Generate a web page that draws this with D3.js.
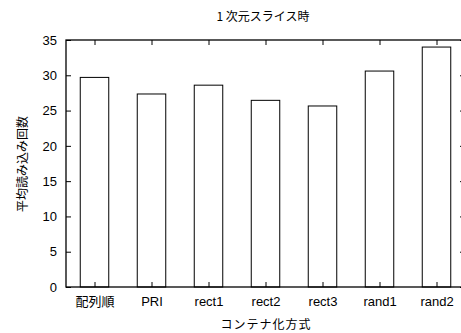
<!DOCTYPE html>
<html>
<head>
<meta charset="utf-8">
<script src="https://cdn.jsdelivr.net/npm/d3@7"></script>
<style>
  body { margin: 0; background: #fff; }
  svg { display: block; }
</style>
</head>
<body>
<script>
// chart data
var categories = ["配列順", "PRI", "rect1", "rect2", "rect3", "rand1", "rand2"];
var values = [29.7, 27.35, 28.6, 26.45, 25.65, 30.6, 34.0];
var yTicks = [0, 5, 10, 15, 20, 25, 30, 35];

var width = 461, height = 333;
// plot box (right edge runs past the window, like the original)
var plotL = 66, plotT = 40, plotR = 465, plotB = 287;
var jpFont = "'Noto Sans CJK JP', sans-serif";
var numFont = "'Liberation Sans', Arial, sans-serif";

var svg = d3.select("body").append("svg")
	.attr("width", width)
	.attr("height", height);

// gnuplot style: xrange [-0.5, n-0.5], bar width 0.5
var x = d3.scaleLinear()
	.domain([-0.5, categories.length - 0.5])
	.range([plotL, plotR]);

var y = d3.scaleLinear()
	.domain([0, 35])
	.range([plotB, plotT]);

var barW = x(0.25) - x(0);

// bars
svg.append("g")
	.selectAll("rect")
	.data(values)
	.enter().append("rect")
		.attr("x", function(d, i) { return x(i) - barW; })
		.attr("y", function(d) { return y(d); })
		.attr("width", 2 * barW)
		.attr("height", function(d) { return y(0) - y(d); })
		.attr("fill", "#fff")
		.attr("stroke", "#000")
		.attr("stroke-width", 1);

// frame
svg.append("rect")
	.attr("x", plotL)
	.attr("y", plotT)
	.attr("width", plotR - plotL)
	.attr("height", plotB - plotT)
	.attr("fill", "none")
	.attr("stroke", "#000")
	.attr("stroke-width", 1.3);

// y axis, ticks pointing in
var yAxis = svg.append("g")
	.attr("transform", "translate(" + plotL + ",0)")
	.call(d3.axisLeft(y).tickValues(yTicks).tickSize(-5).tickPadding(9));
yAxis.select(".domain").remove();
yAxis.selectAll("text")
	.attr("font-family", numFont)
	.attr("font-size", 13)
	.attr("fill", "#000");

// mirrored y ticks on the right
var yAxisR = svg.append("g")
	.attr("transform", "translate(" + plotR + ",0)")
	.call(d3.axisRight(y).tickValues(yTicks).tickSize(-5).tickFormat(""));
yAxisR.select(".domain").remove();

// x axis, ticks pointing in
var xAxis = svg.append("g")
	.attr("transform", "translate(0," + plotB + ")")
	.call(d3.axisBottom(x)
		.tickValues(d3.range(categories.length))
		.tickSize(-5)
		.tickPadding(10)
		.tickFormat(function(i) { return categories[i]; }));
xAxis.select(".domain").remove();
xAxis.selectAll("text")
	.attr("font-family", function(i) { return i === 0 ? jpFont : numFont; })
	.attr("font-size", 13)
	.attr("fill", "#000");

// mirrored x ticks on top
var xAxisT = svg.append("g")
	.attr("transform", "translate(0," + plotT + ")")
	.call(d3.axisTop(x).tickValues(d3.range(categories.length)).tickSize(-5).tickFormat(""));
xAxisT.select(".domain").remove();

// title and axis labels
svg.append("text")
	.attr("x", 263)
	.attr("y", 21)
	.attr("text-anchor", "middle")
	.attr("font-family", jpFont)
	.attr("font-size", 12)
	.text("1 次元スライス時");

svg.append("text")
	.attr("x", 266)
	.attr("y", 329)
	.attr("text-anchor", "middle")
	.attr("font-family", jpFont)
	.attr("font-size", 12)
	.attr("letter-spacing", 1)
	.text("コンテナ化方式");

svg.append("text")
	.attr("transform", "translate(27,164) rotate(-90)")
	.attr("text-anchor", "middle")
	.attr("font-family", jpFont)
	.attr("font-size", 12)
	.text("平均読み込み回数");
</script>
</body>
</html>
